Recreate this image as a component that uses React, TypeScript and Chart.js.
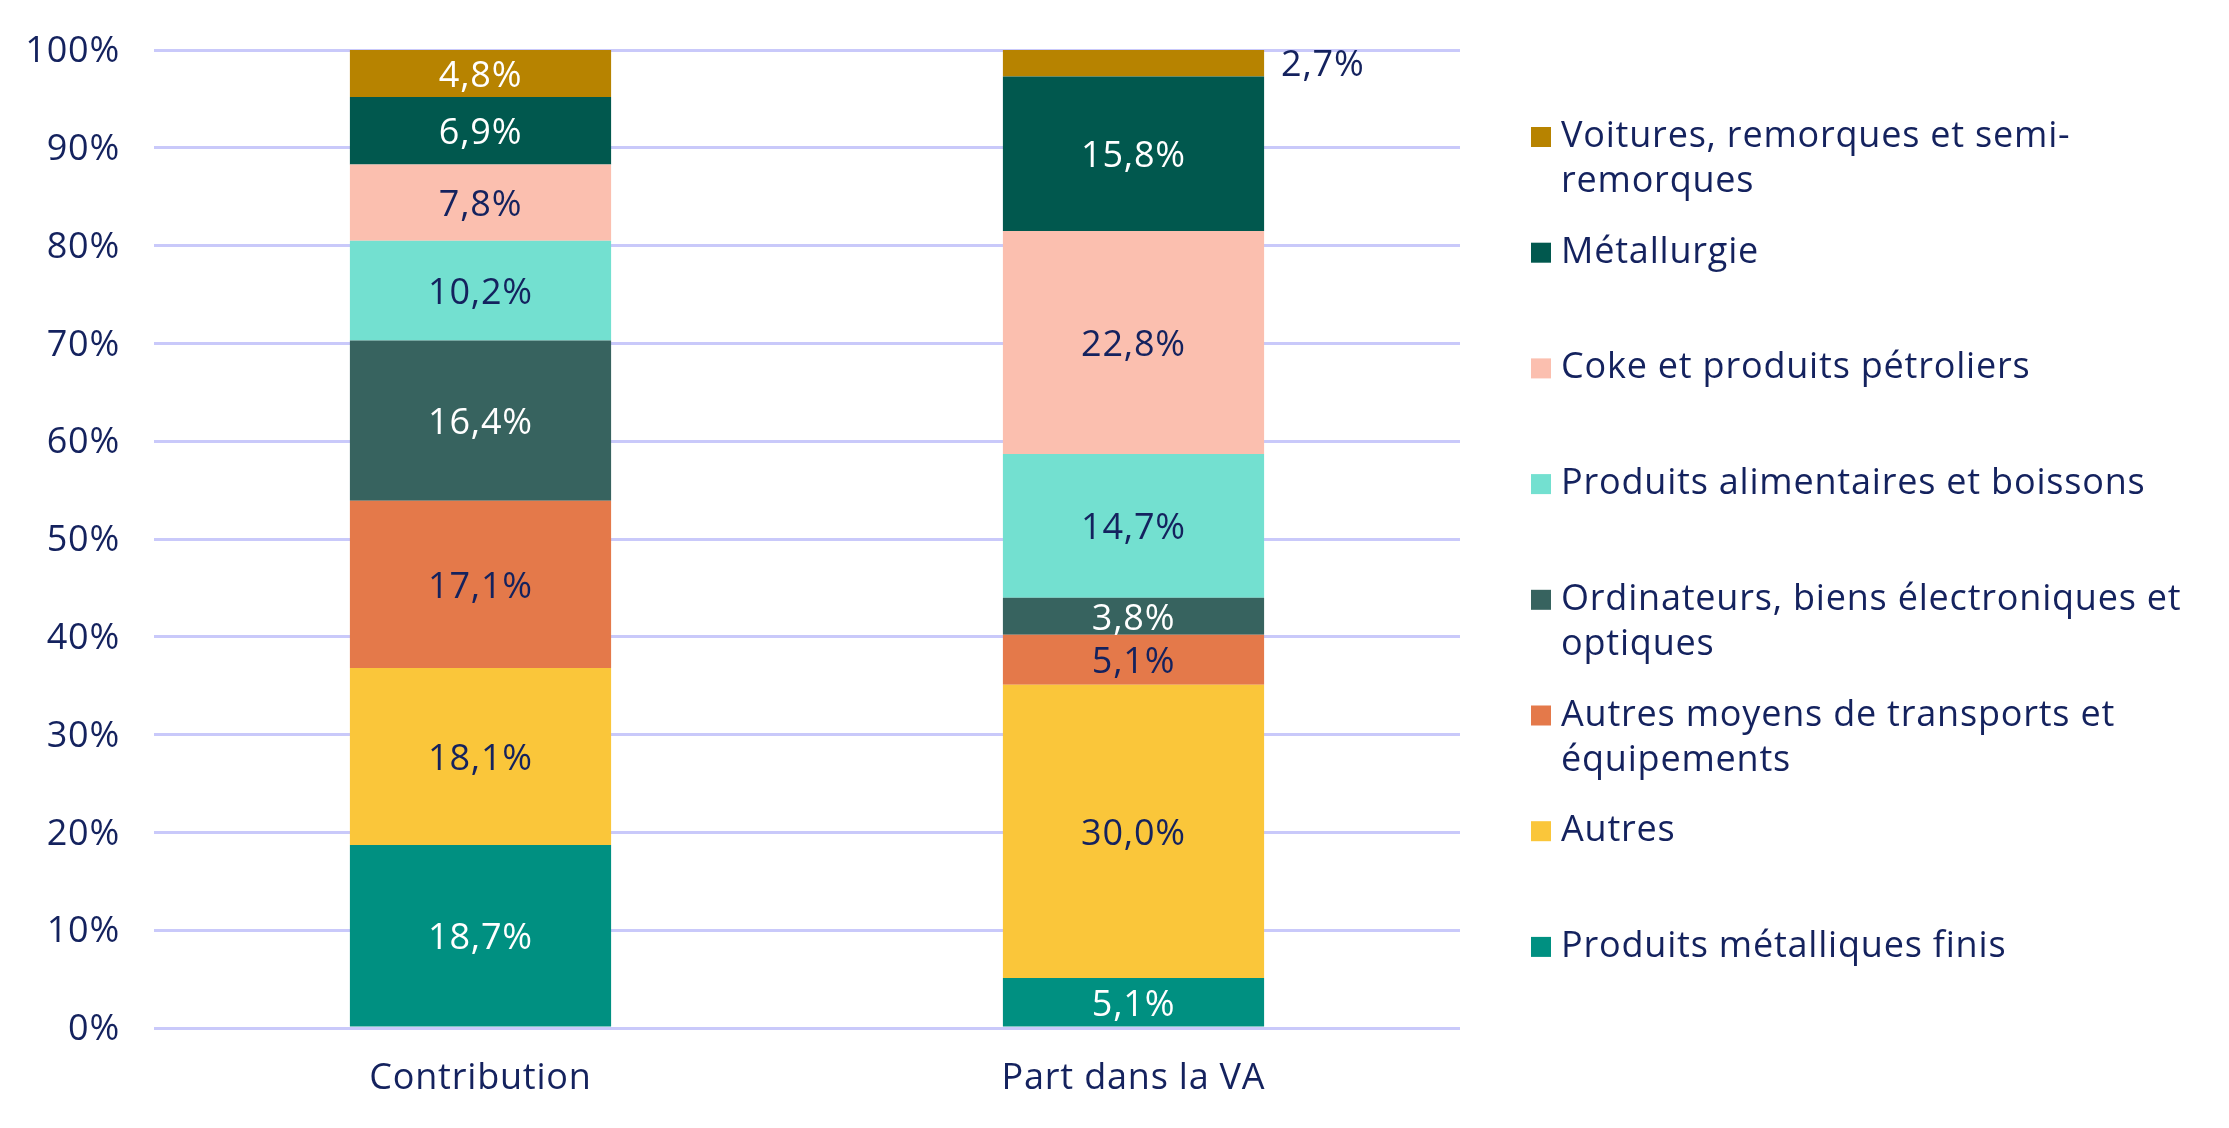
import { useEffect, useRef } from 'react';
import { Chart, registerables } from 'chart.js';

Chart.register(...registerables);

const categories = ['Contribution', 'Part dans la VA'];

const seriesNames = [
  'Produits métalliques finis',
  'Autres',
  'Autres moyens de transports et équipements',
  'Ordinateurs, biens électroniques et optiques',
  'Produits alimentaires et boissons',
  'Coke et produits pétroliers',
  'Métallurgie',
  'Voitures, remorques et semi-remorques',
];

const produitsMetalliques = [18.7, 5.1];
const autres = [18.1, 30.0];
const autresMoyens = [17.1, 5.1];
const ordinateurs = [16.4, 3.8];
const alimentaires = [10.2, 14.7];
const coke = [7.8, 22.8];
const metallurgie = [6.9, 15.8];
const voitures = [4.8, 2.7];

const seriesValues = [produitsMetalliques, autres, autresMoyens, ordinateurs, alimentaires, coke, metallurgie, voitures];

const yMin = 0;
const yMax = 100;
const yStep = 10;

const seriesColors = ['#009081', '#FAC63A', '#E4794A', '#37635F', '#73E0D0', '#FBBFAF', '#01584E', '#B78300'];
const TEXT = '#14225e';
const WHITE = '#ffffff';
const labelColors = [WHITE, TEXT, TEXT, WHITE, TEXT, TEXT, WHITE, WHITE];
const FONT = "'Open Sans', sans-serif";
const FONT_SIZE = 36;
const FONT_WEIGHT = 400;
const LETTER_SPACING = '0.8px';

const fmt = (v: number) => v.toFixed(1).replace('.', ',') + '%';

function wrap(ctx: CanvasRenderingContext2D, text: string, maxW: number): string[] {
  const tokens = text.split(/(?<=[ -])/);
  const lines: string[] = [];
  let line = '';
  for (const t of tokens) {
    const cand = line + t;
    if (line && ctx.measureText(cand.trimEnd()).width > maxW) {
      lines.push(line.trimEnd());
      line = t;
    } else {
      line = cand;
    }
  }
  if (line) lines.push(line.trimEnd());
  return lines;
}

const spacingPlugin = {
  id: 'letterSpacing',
  beforeUpdate(chart: any) {
    (chart.ctx as any).letterSpacing = LETTER_SPACING;
  },
  beforeDraw(chart: any) {
    (chart.ctx as any).letterSpacing = LETTER_SPACING;
  },
};

const dataLabelPlugin = {
  id: 'segLabels',
  afterDatasetsDraw(chart: any) {
    const ctx = chart.ctx as CanvasRenderingContext2D;
    ctx.save();
    (ctx as any).letterSpacing = LETTER_SPACING;
    ctx.font = `${FONT_WEIGHT} ${FONT_SIZE}px ${FONT}`;
    chart.data.datasets.forEach((ds: any, di: number) => {
      const meta = chart.getDatasetMeta(di);
      meta.data.forEach((el: any, i: number) => {
        const { x, y, base, width } = el.getProps(['x', 'y', 'base', 'width'], true);
        const v = ds.data[i];
        const h = Math.abs(base - y);
        const cy = (y + base) / 2 + 3;
        ctx.textBaseline = 'middle';
        if (h < 30) {
          ctx.textAlign = 'left';
          ctx.fillStyle = TEXT;
          ctx.fillText(fmt(v), x + width / 2 + 17, cy);
        } else {
          ctx.textAlign = 'center';
          ctx.fillStyle = ds.labelColor;
          ctx.fillText(fmt(v), x, cy);
        }
      });
    });
    ctx.restore();
  },
};

const legendPlugin = {
  id: 'sideLegend',
  afterDraw(chart: any) {
    const ctx = chart.ctx as CanvasRenderingContext2D;
    const area = chart.chartArea;
    ctx.save();
    (ctx as any).letterSpacing = LETTER_SPACING;
    ctx.font = `${FONT_WEIGHT} ${FONT_SIZE}px ${FONT}`;
    ctx.textAlign = 'left';
    ctx.textBaseline = 'alphabetic';
    const ds = chart.data.datasets;
    const sx = area.right + 71;
    const tx = area.right + 101;
    for (let i = 0; i < ds.length; i++) {
      const d = ds[ds.length - 1 - i];
      const baseY = area.top + 97 + i * 115.7;
      ctx.fillStyle = d.backgroundColor;
      ctx.fillRect(sx, baseY - 20, 20, 20);
      ctx.fillStyle = TEXT;
      const lines = wrap(ctx, d.label, 650);
      lines.forEach((l, j) => ctx.fillText(l, tx, baseY + j * 45));
    }
    ctx.restore();
  },
};

export default function App() {
  const ref = useRef<HTMLCanvasElement>(null);
  useEffect(() => {
    if (!ref.current) return;
    const chart = new Chart(ref.current, {
      type: 'bar',
      data: {
        labels: categories,
        datasets: seriesNames.map((name, i) => ({
          label: name,
          data: seriesValues[i],
          backgroundColor: seriesColors[i],
          labelColor: labelColors[i],
          borderWidth: 0,
          categoryPercentage: 0.4,
          barPercentage: 1,
        })) as any,
      },
      options: {
        responsive: false,
        animation: false,
        devicePixelRatio: 1,
        layout: { padding: { left: 0, right: 769, top: 50, bottom: 0 } },
        plugins: {
          legend: { display: false },
          tooltip: { enabled: false },
        },
        scales: {
          x: {
            stacked: true,
            grid: { display: false, drawTicks: false },
            border: { display: false },
            ticks: {
              color: TEXT,
              padding: 29,
              font: { family: FONT, size: FONT_SIZE, weight: FONT_WEIGHT as any },
            },
            afterFit: (s: any) => {
              s.height = 100;
              s.paddingLeft = 0;
              s.paddingRight = 0;
            },
          },
          y: {
            stacked: true,
            min: yMin,
            max: yMax,
            grid: { color: '#C9C9FA', lineWidth: 3, drawTicks: false },
            border: { display: false },
            ticks: {
              stepSize: yStep,
              color: TEXT,
              padding: 34,
              labelOffset: 2,
              font: { family: FONT, size: FONT_SIZE, weight: FONT_WEIGHT as any },
              callback: (v: any) => v + '%',
            },
            afterFit: (s: any) => {
              s.width = 154;
              s.paddingTop = 0;
              s.paddingBottom = 0;
            },
          },
        },
      },
      plugins: [spacingPlugin, dataLabelPlugin, legendPlugin],
    });
    return () => chart.destroy();
  }, []);
  return (
    <div style={{ position: 'fixed', left: 0, top: 0, width: 2229, height: 1128, background: '#fff' }}>
      <canvas ref={ref} width={2229} height={1128} style={{ width: 2229, height: 1128, display: 'block' }} />
    </div>
  );
}
